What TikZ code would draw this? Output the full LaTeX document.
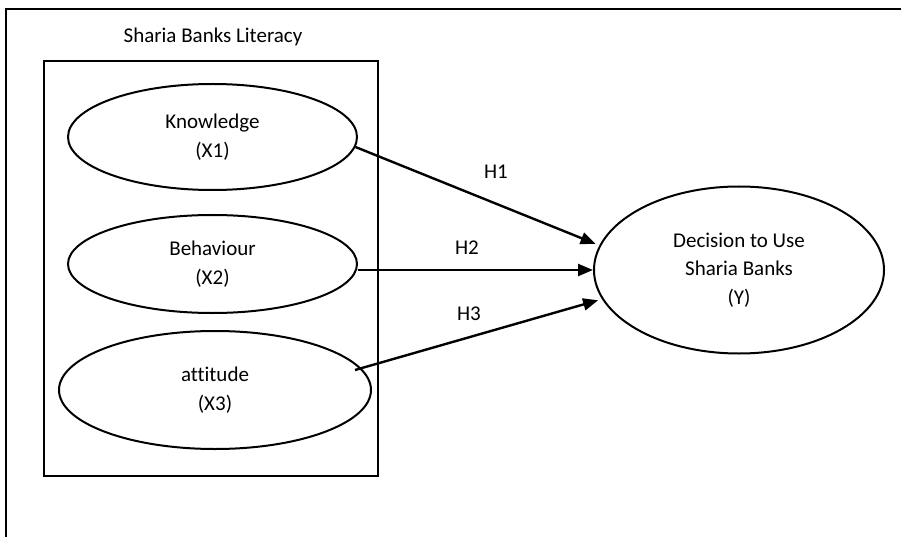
\documentclass[tikz,border=0pt]{standalone}
\usepackage{fontspec}
\setmainfont{Carlito}[RawFeature=-liga]
\usetikzlibrary{shapes.geometric,arrows.meta}
\begin{document}
\begin{tikzpicture}[x=1pt,y=-1pt,
  oval/.style={draw,line width=2pt,ellipse,inner sep=0pt,align=center,
    font=\fontsize{21}{28.5}\selectfont},
  lbl/.style={font=\fontsize{21}{25}\selectfont,inner sep=0pt},
  arr/.style={line width=2.4pt,-{Triangle[length=15pt,width=12pt]}},
  frame/.style={line width=2.8pt}]
\useasboundingbox (0,0) rectangle (901,537);
\draw[frame] (901,9) -- (6,9) -- (6,537);
\node[lbl] (title) at (213,37) {Sharia Banks Literacy};
\node[draw,line width=2.2pt,minimum width=334pt,minimum height=415pt,inner sep=0pt] (box) at (211,268.5) {};
\node[oval,minimum width=289pt,minimum height=106pt] (k) at (212.5,137) {Knowledge\\(X1)};
\node[oval,minimum width=289pt,minimum height=98pt] (b) at (212.5,264) {Behaviour\\(X2)};
\node[oval,minimum width=312pt,minimum height=118pt] (a) at (215,390) {attitude\\(X3)};
\node[oval,minimum width=290pt,minimum height=167pt] (y) at (739,270) {Decision to Use\\Sharia Banks\\(Y)};
\coordinate (a3) at (355,370);
\draw[arr,shorten >=4pt] (k.-4) -- (y.170);
\draw[arr] (y.west -| b.east) -- (y.west);
\draw[arr,shorten >=4pt] (a3) -- (y.192);
\node[lbl] (h1) at (496,172) {H1};
\node[lbl] (h2) at (467,248) {H2};
\node[lbl] (h3) at (469,314) {H3};
\end{tikzpicture}
\end{document}
